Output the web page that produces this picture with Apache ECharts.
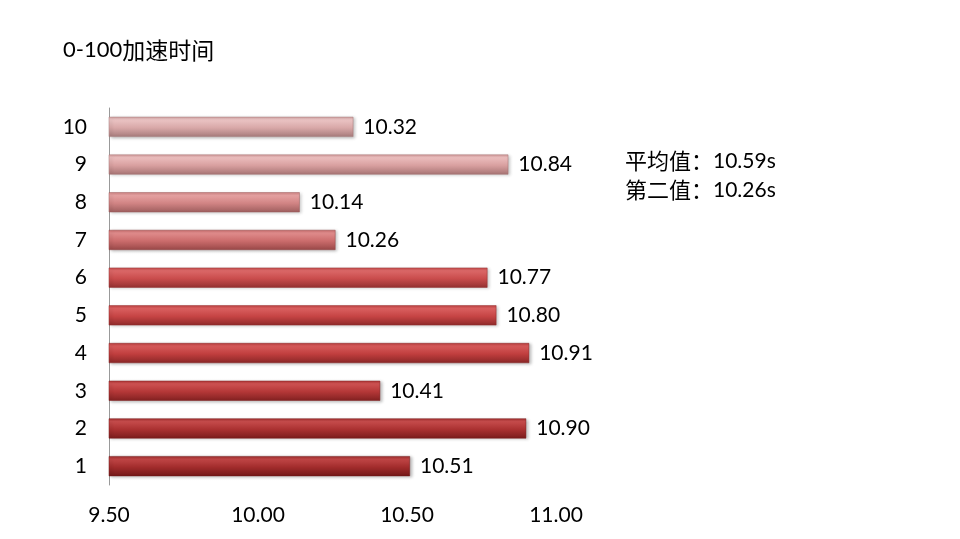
<!DOCTYPE html>
<html><head><meta charset="utf-8">
<script src="https://cdn.jsdelivr.net/npm/echarts@6/dist/echarts.min.js"></script>
<style>html,body{margin:0;padding:0;background:#fff}#c{width:960px;height:539px}</style>
</head><body><div id="c"></div>
<script>
const categories = ['1','2','3','4','5','6','7','8','9','10'];
const values = [10.51, 10.90, 10.41, 10.91, 10.80, 10.77, 10.26, 10.14, 10.84, 10.32];
const xTicks = [9.5, 10.0, 10.5, 11.0];
const titleParts = ['0-100', '加速时间'];
const noteLines = [['平均值：', '10.59s'], ['第二值：', '10.26s']];

const barColors = [
  ['#c04646','#a22c2c','#731818'],
  ['#c64c4c','#aa3131','#7a1c1c'],
  ['#ce5252','#b43737','#822121'],
  ['#d65a5a','#c03e3e','#8a2727'],
  ['#da6060','#c64444','#902b2b'],
  ['#dc6868','#c94c4c','#943131'],
  ['#e08c8c','#cb6c6c','#994848'],
  ['#e6a2a2','#d18484','#9f5e5e'],
  ['#ebbdbd','#d89f9f','#a77474'],
  ['#ebc4c4','#d8a8a8','#a77b7b']
];
const LAT = 'Lato, "Noto Sans CJK SC", sans-serif';
const CJK = '"Noto Sans CJK SC", sans-serif';
const rich = {
  a: { fontFamily: LAT, fontSize: 21, fill: '#000', color: '#000' },
  b: { fontFamily: CJK, fontSize: 22, fill: '#000', color: '#000' },
  ta: { fontFamily: LAT, fontSize: 22, fill: '#000', color: '#000' },
  tb: { fontFamily: CJK, fontSize: 23, fill: '#000', color: '#000' }
};
const chart = echarts.init(document.getElementById('c'));
chart.setOption({
  animation: false,
  backgroundColor: '#fff',
  grid: { left: 109, right: 404, top: 108, bottom: 54 },
  xAxis: {
    type: 'value', min: 9.5, max: 11.0, interval: 0.5,
    axisLine: { show: false }, axisTick: { show: false }, splitLine: { show: false },
    axisLabel: { margin: 20, fontFamily: LAT, fontSize: 21, color: '#000',
      formatter: v => xTicks.some(t => Math.abs(t - v) < 1e-9) ? v.toFixed(2) : '' }
  },
  yAxis: {
    type: 'category', data: categories,
    axisLine: { show: true, lineStyle: { color: '#999', width: 1 } },
    axisTick: { show: false },
    axisLabel: { margin: 22, fontFamily: LAT, fontSize: 21, color: '#000' }
  },
  series: [{
    type: 'bar', barWidth: 20,
    data: values.map((v, i) => ({
      value: v,
      itemStyle: {
        color: { type: 'linear', x: 0, y: 0, x2: 0, y2: 1, colorStops: [
          { offset: 0, color: barColors[i][1] },
          { offset: 0.15, color: barColors[i][0] },
          { offset: 0.55, color: barColors[i][1] },
          { offset: 1, color: barColors[i][2] }
        ] },
        borderColor: barColors[i][2], borderWidth: 0.5,
        shadowColor: 'rgba(0,0,0,0.25)', shadowBlur: 3, shadowOffsetX: 2, shadowOffsetY: 1
      }
    })),
    label: { show: true, position: 'right', distance: 10, fontFamily: LAT, fontSize: 21, color: '#000',
      formatter: p => p.value.toFixed(2) }
  }],
  graphic: [
    { type: 'text', x: 63, y: 50,
      style: { text: '{ta|' + titleParts[0] + '}{tb|' + titleParts[1] + '}', verticalAlign: 'middle', rich: rich } }
  ].concat(noteLines.map((t, i) => ({
    type: 'text', x: 625, y: 161 + i * 29,
    style: { text: '{b|' + t[0] + '}{a|' + t[1] + '}', verticalAlign: 'middle', rich: rich }
  })))
});
</script></body></html>
